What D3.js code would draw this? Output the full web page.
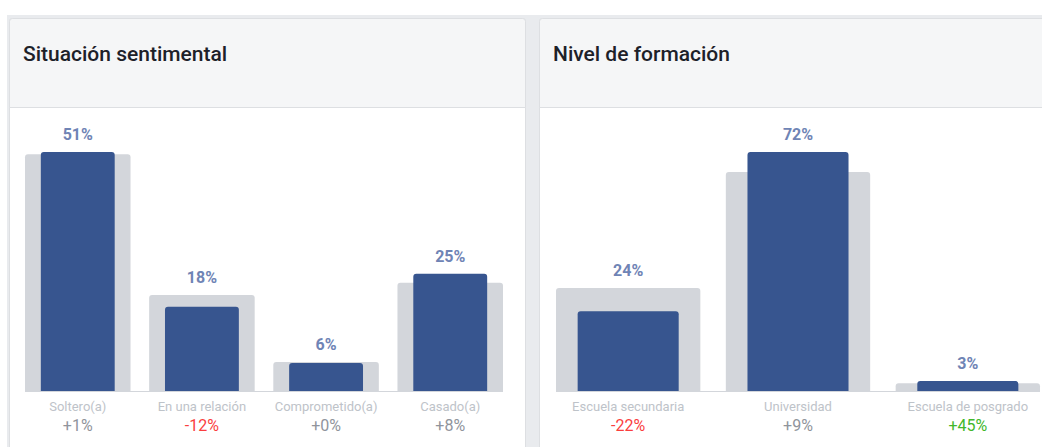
<!DOCTYPE html>
<html lang="es">
<head>
<meta charset="UTF-8">
<title>Situación sentimental / Nivel de formación</title>
<script src="https://d3js.org/d3.v7.min.js"></script>
<style>
    body {
        margin: 0;
        background: #fff;
        font-family: Roboto, "Noto Sans", Arial, sans-serif;
    }
    svg { display: block; }
</style>
</head>
<body>
<div id="chart"></div>
<script>
    // Situación sentimental
    const relCategories = ["Soltero(a)", "En una relación", "Comprometido(a)", "Casado(a)"];
    const relValues = [51, 18, 6, 25];
    const relBenchmark = [50.5, 20.5, 6.2, 23.1];
    const relDeltas = ["+1%", "-12%", "+0%", "+8%"];

    // Nivel de formación
    const eduCategories = ["Escuela secundaria", "Universidad", "Escuela de posgrado"];
    const eduValues = [24, 72, 3];
    const eduBenchmark = [31, 66, 2.3];
    const eduDeltas = ["-22%", "+9%", "+45%"];

    const W = 1042, H = 447;
    const baseY = 391, topY = 152;

    const svg = d3.select("#chart").append("svg")
        .attr("width", W)
        .attr("height", H);

    // grey page strip behind the cards
    svg.append("rect")
        .attr("x", 7).attr("y", 15)
        .attr("width", W).attr("height", H)
        .attr("fill", "#e9ebee");

    function deltaColor(d) {
        if (d.startsWith("-")) return "#fa3e3e";
        if (parseInt(d) < 20) return "#90949c";
        return "#42b72a";
    }

    // bar with rounded top corners
    function topRounded(x, y, w, h, r) {
        r = Math.min(r, h, w / 2);
        return `M${x},${y + h}V${y + r}Q${x},${y} ${x + r},${y}H${x + w - r}Q${x + w},${y} ${x + w},${y + r}V${y + h}Z`;
    }

    function panel(opts) {
        const g = svg.append("g");
        const l = opts.left + 0.5, r = opts.left + opts.width + 0.5;

        g.append("rect")
            .attr("x", l).attr("y", 18.5)
            .attr("width", opts.width).attr("height", H)
            .attr("rx", 3)
            .attr("fill", "#fff")
            .attr("stroke", "#dddfe2");

        g.append("path")
            .attr("d", `M${l + 3},18.5H${r - 3}Q${r},18.5 ${r},21.5V107.5H${l}V21.5Q${l},18.5 ${l + 3},18.5Z`)
            .attr("fill", "#f5f6f7")
            .attr("stroke", "#dddfe2");

        g.append("text")
            .attr("x", opts.left + 14)
            .attr("y", 61)
            .attr("font-size", 21)
            .attr("font-weight", 500)
            .attr("fill", "#1d2129")
            .text(opts.title);

        const x = d3.scaleBand()
            .domain(opts.categories)
            .range(opts.range)
            .paddingInner(0.15)
            .paddingOuter(0);

        const y = d3.scaleLinear()
            .domain([0, d3.max(opts.values.concat(opts.benchmark))])
            .range([baseY, topY]);

        const rows = opts.categories.map((c, i) => ({
            cat: c, value: opts.values[i], bench: opts.benchmark[i], delta: opts.deltas[i]
        }));

        // baseline
        g.append("line")
            .attr("x1", opts.range[0]).attr("x2", opts.range[1])
            .attr("y1", baseY + 0.5).attr("y2", baseY + 0.5)
            .attr("stroke", "#d3d6db");

        const bw = x.bandwidth();
        const inner = bw * 0.7;

        g.selectAll(".bench").data(rows).join("path")
            .attr("class", "bench")
            .attr("fill", "#d3d6db")
            .attr("d", d => topRounded(x(d.cat), y(d.bench), bw, baseY - y(d.bench), 3));

        g.selectAll(".bar").data(rows).join("path")
            .attr("class", "bar")
            .attr("fill", "#37558f")
            .attr("d", d => topRounded(x(d.cat) + (bw - inner) / 2, y(d.value), inner, baseY - y(d.value), 3));

        g.selectAll(".val").data(rows).join("text")
            .attr("class", "val")
            .attr("x", d => x(d.cat) + bw / 2)
            .attr("y", d => Math.min(y(d.value), y(d.bench)) - 12)
            .attr("text-anchor", "middle")
            .attr("font-size", 16)
            .attr("font-weight", 700)
            .attr("fill", "#6f84b5")
            .text(d => d.value + "%");

        g.selectAll(".cat").data(rows).join("text")
            .attr("class", "cat")
            .attr("x", d => x(d.cat) + bw / 2)
            .attr("y", 411)
            .attr("text-anchor", "middle")
            .attr("font-size", 13)
            .attr("fill", "#bec3c9")
            .text(d => d.cat);

        g.selectAll(".delta").data(rows).join("text")
            .attr("class", "delta")
            .attr("x", d => x(d.cat) + bw / 2)
            .attr("y", 431)
            .attr("text-anchor", "middle")
            .attr("font-size", 16)
            .attr("fill", d => deltaColor(d.delta))
            .text(d => d.delta);
    }

    panel({
        left: 9, width: 516, title: "Situación sentimental",
        categories: relCategories, values: relValues, benchmark: relBenchmark, deltas: relDeltas,
        range: [25, 503]
    });

    panel({
        left: 539, width: 540, title: "Nivel de formación",
        categories: eduCategories, values: eduValues, benchmark: eduBenchmark, deltas: eduDeltas,
        range: [556, 1040]
    });
</script>
</body>
</html>
